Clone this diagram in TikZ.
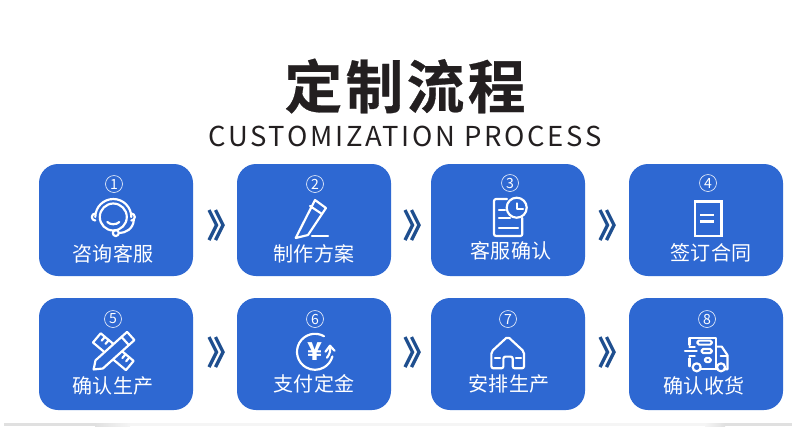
\documentclass[tikz,border=0pt]{standalone}
\usepackage{fontspec}
\usepackage{xcolor}
\usepackage{tikz}
\setmainfont{Noto Sans CJK SC}
\newfontfamily\titlefont[LetterSpace=6,FakeBold=.5]{Noto Sans CJK SC Bold}
\newfontfamily\subfont[LetterSpace=9.8]{Noto Sans CJK SC}
\definecolor{StepBlue}{HTML}{2E68D2}
\definecolor{ArrowBlue}{HTML}{1F4F8F}
\definecolor{TitleInk}{HTML}{231F20}
\tikzset{
  stepbox/.style={fill=StepBlue,rounded corners=.19cm,minimum width=1.54cm,minimum height=1.12cm,inner sep=0pt},
  steplabel/.style={text=white,font=\fontsize{5.7}{6}\selectfont,inner sep=0pt},
  stepnum/.style={circle,draw=white!85!StepBlue,line width=.2pt,minimum size=.17cm,inner sep=0pt,text=white,font=\fontsize{4}{4}\selectfont},
  iconline/.style={draw=white,line width=.62pt,line cap=round,line join=round},
  chevrons/.pic={
    \draw[ArrowBlue,line width=.95pt,miter limit=10] (-.07,.15) -- (.005,0) -- (-.07,-.15);
    \draw[ArrowBlue,line width=.95pt,miter limit=10] (-.005,.15) -- (.07,0) -- (-.005,-.15);
  }
}
\begin{document}
\begin{tikzpicture}[x=1cm,y=1cm]
\path[use as bounding box] (0,0) rectangle (8.00,4.26);
\fill[white] (0,0) rectangle (8.00,4.26);
% strip at the foot
\fill[black!12] (.04,0) rectangle (.95,.03);
\fill[left color=black!12,right color=black!4] (.95,0) rectangle (1.30,.03);
\fill[black!4] (1.30,0) rectangle (7.05,.03);
\fill[left color=black!4,right color=black!12] (7.05,0) rectangle (7.25,.03);
\fill[black!12] (7.25,0) rectangle (7.92,.03);
% heading
\node[text=TitleInk,inner sep=0pt,font=\titlefont\fontsize{16.4}{18}\selectfont] (title) at (4.05,3.40) {定制流程};
\node[text=TitleInk,inner sep=0pt,font=\subfont\fontsize{7.8}{9}\selectfont] (subtitle) at (4.05,2.90) {CUSTOMIZATION PROCESS};
% top row
\node[stepbox] (box1) at (1.16,2.06) {};
\node[stepbox] (box2) at (3.14,2.06) {};
\node[stepbox] (box3) at (5.08,2.06) {};
\node[stepbox] (box4) at (7.06,2.06) {};
% bottom row
\node[stepbox] (box5) at (1.16,.72) {};
\node[stepbox] (box6) at (3.14,.72) {};
\node[stepbox] (box7) at (5.08,.72) {};
\node[stepbox] (box8) at (7.06,.72) {};
\node[stepnum] (num1) at (1.14,2.42) {1};
\node[stepnum] (num2) at (3.15,2.42) {2};
\node[stepnum] (num3) at (5.10,2.43) {3};
\node[stepnum] (num4) at (7.08,2.43) {4};
\node[stepnum] (num5) at (1.13,1.07) {5};
\node[stepnum] (num6) at (3.15,1.07) {6};
\node[stepnum] (num7) at (5.08,1.07) {7};
\node[stepnum] (num8) at (7.07,1.07) {8};
\node[steplabel] (text1) at (1.13,1.72) {咨询客服};
\node[steplabel] (text2) at (3.14,1.72) {制作方案};
\node[steplabel] (text3) at (5.11,1.75) {客服确认};
\node[steplabel] (text4) at (7.11,1.73) {签订合同};
\node[steplabel] (text5) at (1.13,.40) {确认生产};
\node[steplabel] (text6) at (3.14,.42) {支付定金};
\node[steplabel] (text7) at (5.09,.42) {安排生产};
\node[steplabel] (text8) at (7.04,.40) {确认收货};
% arrows between the boxes
\pic at (2.16,2.01) {chevrons};
\pic at (4.12,2.01) {chevrons};
\pic at (6.07,2.01) {chevrons};
\pic at (2.16,.74) {chevrons};
\pic at (4.12,.74) {chevrons};
\pic at (6.07,.74) {chevrons};
% headset
\begin{scope}[shift={(1.133,2.09)},iconline]
\draw (0,0) circle (.135);
\draw (-.18,.0) arc (180:0:.18);
\draw (-.18,.035) arc (90:270:.035);
\draw (.18,.035) arc (90:-90:.035);
\draw (.205,-.03) .. controls (.20,-.12) and (.12,-.16) .. (.06,-.16);
\draw (.025,-.16) circle (.03);
\draw (-.06,-.05) .. controls (-.03,-.08) and (.03,-.08) .. (.06,-.05);
\end{scope}
% pencil
\begin{scope}[shift={(3.10,2.06)},iconline]
\draw (-.143,-.18) -- (.05,.20) -- (.16,.12) -- (-.02,-.15) -- cycle;
\draw (.00,.14) -- (.12,.06);
\draw (.02,-.16) -- (.18,-.16);
\end{scope}
% document and clock
\begin{scope}[shift={(5.10,2.08)},iconline]
\draw[rounded corners=.02cm] (-.03,.19) -- (-.16,.19) -- (-.16,-.18) -- (.123,-.18) -- (.123,.0);
\draw (.067,.103) circle (.10);
\draw (.067,.147) -- (.067,.09) -- (.13,.09);
\draw (-.11,.08) -- (-.05,.08);
\draw (-.11,0) -- (0,0);
\draw (-.11,-.097) -- (.08,-.097);
\end{scope}
% contract
\begin{scope}[shift={(7.08,2.07)},iconline]
\draw[line width=.8pt,line cap=butt,line join=miter] (-.13,.173) rectangle (.137,-.17);
\draw[line width=.8pt,line cap=butt] (-.08,.04) -- (.06,.04);
\draw[line width=.8pt,line cap=butt] (-.08,-.027) -- (.06,-.027);
\end{scope}
% ruler and pencil
\begin{scope}[shift={(1.133,.743)},iconline]
\draw[rotate=-40] (-.215,-.06) rectangle (.215,.06);
\foreach \t in {-.16,-.11,.11,.16} {
  \draw[rotate=-40] (\t,.06) -- (\t,.01);
}
\draw[rotate=42,fill=StepBlue] (-.265,0) -- (-.19,.055) -- (.235,.055) -- (.235,-.055) -- (-.19,-.055) -- cycle;
\draw[rotate=42] (.16,.055) -- (.16,-.055);
\end{scope}
% coin with arrow
\begin{scope}[shift={(3.15,.743)},iconline]
\draw (.09,.155) arc (60:345:.18);
\draw (.12,-.06) .. controls (.15,-.02) and (.155,.01) .. (.15,.05);
\draw (.105,.0) -- (.15,.06) -- (.195,.01);
\node[text=white,inner sep=0pt,font=\fontsize{7}{7}\bfseries\selectfont] (yen) at (0,.005) {¥};
\end{scope}
% house
\begin{scope}[shift={(5.077,.727)},iconline]
\draw[rounded corners=.02cm] (-.043,-.15) -- (-.163,-.15) -- (-.163,.017) -- (0,.167) -- (.163,.017) -- (.163,-.15) -- (.05,-.15) -- (.05,-.033) -- (-.043,-.033) -- cycle;
\draw (-.127,-.05) -- (-.077,-.05);
\draw (.083,-.05) -- (.133,-.05);
\end{scope}
% truck
\begin{scope}[shift={(7.067,.727)},iconline]
\draw (-.173,.083) -- (-.173,.157) -- (.093,.157) -- (.093,-.16);
\draw (-.173,-.05) -- (-.173,-.13);
\draw (.093,.067) -- (.15,.067) -- (.207,-.017) -- (.207,-.16) -- (.183,-.16);
\draw (-.06,-.16) -- (.103,-.16);
\draw (-.10,-.14) circle (.04);
\draw (.143,-.14) circle (.04);
\draw[rounded corners=.015cm] (-.093,.127) rectangle (.05,.087);
\draw[rounded corners=.015cm] (-.05,.043) rectangle (.05,.003);
\draw[rounded corners=.015cm] (-.017,-.047) rectangle (.04,-.087);
\draw (-.173,.067) -- (-.12,.067);
\draw (-.217,.023) -- (-.10,.023);
\draw (-.173,-.023) -- (-.12,-.023);
\draw (.14,-.023) -- (.207,-.023);
\end{scope}
\end{tikzpicture}
\end{document}
